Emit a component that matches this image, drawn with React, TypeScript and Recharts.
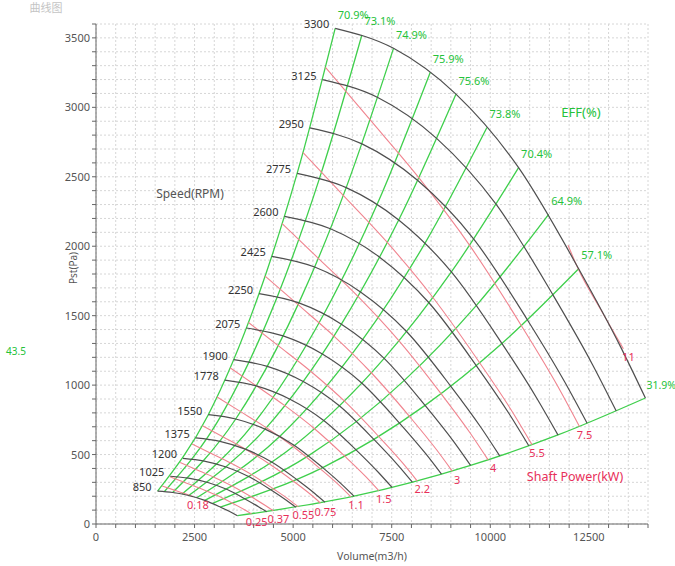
import React from 'react';
import { LineChart, Line, XAxis, YAxis, CartesianGrid } from 'recharts';

const FONT = '"Noto Sans", "Noto Sans CJK SC", sans-serif';

// axis ticks
const xLabels = [0, 2500, 5000, 7500, 10000, 12500];
const yLabels = [0, 500, 1000, 1500, 2000, 2500, 3000, 3500];
const xTicks = Array.from({ length: 29 }, (_, i) => i * 500);
const yTicks = Array.from({ length: 37 }, (_, i) => i * 100);

// speed curves (RPM), [volume m3/h, Pst Pa]
const n850 = [[1562, 237], [1944, 227], [2351, 205], [2761, 170], [3153, 122], [3426, 85], [3589, 60]];
const n1025 = [[1884, 344], [2344, 330], [2836, 299], [3329, 248], [3802, 177], [4131, 123], [4328, 88]];
const n1200 = [[2206, 472], [2744, 453], [3320, 409], [3897, 339], [4451, 243], [4836, 169], [5067, 120]];
const n1375 = [[2528, 620], [3144, 595], [3804, 537], [4466, 445], [5100, 319], [5541, 222], [5806, 157]];
const n1550 = [[2849, 787], [3544, 756], [4288, 683], [5034, 566], [5750, 406], [6247, 282], [6545, 200]];
const n1778 = [[3268, 1036], [4066, 994], [4919, 898], [5775, 745], [6595, 534], [7165, 371], [7508, 263]];
const n1900 = [[3493, 1183], [4345, 1135], [5256, 1026], [6171, 851], [7048, 609], [7657, 424], [8023, 301]];
const n2075 = [[3814, 1411], [4745, 1354], [5740, 1224], [6739, 1015], [7697, 727], [8362, 506], [8762, 359]];
const n2250 = [[4136, 1659], [5145, 1592], [6224, 1439], [7308, 1193], [8346, 854], [9068, 595], [9500, 422]];
const n2425 = [[4458, 1927], [5545, 1850], [6708, 1671], [7876, 1386], [8995, 993], [9773, 691], [10239, 490]];
const n2600 = [[4779, 2215], [5945, 2126], [7193, 1921], [8444, 1593], [9644, 1141], [10478, 794], [10978, 563]];
const n2775 = [[5101, 2524], [6345, 2422], [7677, 2189], [9013, 1815], [10294, 1300], [11183, 904], [11717, 641]];
const n2950 = [[5423, 2852], [6746, 2737], [8161, 2473], [9581, 2051], [10943, 1469], [11889, 1022], [12456, 725]];
const n3125 = [[5744, 3200], [7146, 3071], [8645, 2775], [10150, 2301], [11592, 1648], [12594, 1147], [13195, 813]];
const n3300 = [[6066, 3569], [7546, 3425], [9129, 3095], [10718, 2566], [12241, 1838], [13299, 1279], [13934, 907]];

// efficiency lines
const e709 = [[1562, 237], [2849, 787], [4136, 1659], [5101, 2524], [6066, 3569]];
const e731 = [[1737, 234], [3167, 777], [4598, 1637], [5670, 2490], [6743, 3521]];
const e749 = [[1944, 227], [3544, 756], [5145, 1592], [6345, 2422], [7546, 3425]];
const e759 = [[2184, 216], [3982, 717], [5780, 1512], [7128, 2300], [8477, 3252]];
const e756 = [[2351, 205], [4288, 683], [6224, 1439], [7677, 2189], [9129, 3095]];
const e738 = [[2554, 189], [4658, 630], [6761, 1327], [8338, 2019], [9916, 2855]];
const e704 = [[2761, 170], [5034, 566], [7308, 1193], [9013, 1815], [10718, 2566]];
const e649 = [[2957, 148], [5392, 492], [7827, 1036], [9654, 1576], [11480, 2229]];
const e571 = [[3153, 122], [5750, 406], [8346, 854], [10294, 1300], [12241, 1838]];
const e319 = [[3589, 60], [6545, 200], [9500, 422], [11717, 641], [13934, 907]];

// shaft power lines (kW)
const p018 = [[1679, 273], [2006, 242], [2363, 207], [2460, 197]];
const p025 = [[1874, 341], [2238, 301], [2636, 258], [3050, 208], [3473, 148], [3769, 103], [3946, 73]];
const p037 = [[2135, 442], [2551, 391], [3004, 335], [3476, 270], [3958, 192], [4296, 133], [4498, 95]];
const p055 = [[2437, 576], [2910, 510], [3429, 437], [3967, 352], [4516, 250], [4902, 174], [5133, 123]];
const p075 = [[2702, 708], [3228, 627], [3802, 537], [4399, 432], [5008, 308], [5437, 214], [5692, 151]];
const p110 = [[3070, 914], [3667, 809], [4320, 693], [4998, 558], [5690, 397], [6176, 276], [6467, 195]];
const p150 = [[3404, 1124], [4067, 995], [4790, 852], [5542, 686], [6310, 488], [6849, 339], [7172, 240]];
const p220 = [[3868, 1451], [4620, 1284], [5443, 1100], [6297, 886], [7170, 630], [7781, 438], [8147, 310]];
const p300 = [[4289, 1785], [5124, 1579], [6035, 1353], [6982, 1089], [7949, 775], [8628, 538], [9035, 381]];
const p400 = [[4721, 2162], [5639, 1913], [6643, 1639], [7685, 1319], [8750, 939], [9498, 652], [9945, 462]];
const p550 = [[5250, 2674], [6271, 2366], [7387, 2027], [8545, 1631], [9730, 1161], [10562, 807], [11058, 571]];
const p750 = [[5821, 3287], [6954, 2909], [8191, 2492], [9477, 2006], [10789, 1428], [11711, 992], [12262, 702]];
const p1100 = [[11972, 2007], [12241, 1830], [12800, 1545], [13376, 1262]];

const speeds = [
  { label: '850', pts: n850 }, { label: '1025', pts: n1025 }, { label: '1200', pts: n1200 },
  { label: '1375', pts: n1375 }, { label: '1550', pts: n1550 }, { label: '1778', pts: n1778 },
  { label: '1900', pts: n1900 }, { label: '2075', pts: n2075 }, { label: '2250', pts: n2250 },
  { label: '2425', pts: n2425 }, { label: '2600', pts: n2600 }, { label: '2775', pts: n2775 },
  { label: '2950', pts: n2950 }, { label: '3125', pts: n3125 }, { label: '3300', pts: n3300 },
];
const effs = [
  { label: '70.9%', pts: e709 }, { label: '73.1%', pts: e731 }, { label: '74.9%', pts: e749 },
  { label: '75.9%', pts: e759 }, { label: '75.6%', pts: e756 }, { label: '73.8%', pts: e738 },
  { label: '70.4%', pts: e704 }, { label: '64.9%', pts: e649 }, { label: '57.1%', pts: e571 },
  { label: '31.9%', pts: e319 },
];
const powers = [
  { label: '0.18', pts: p018 }, { label: '0.25', pts: p025 }, { label: '0.37', pts: p037 },
  { label: '0.55', pts: p055 }, { label: '0.75', pts: p075 }, { label: '1.1', pts: p110 },
  { label: '1.5', pts: p150 }, { label: '2.2', pts: p220 }, { label: '3', pts: p300 },
  { label: '4', pts: p400 }, { label: '5.5', pts: p550 }, { label: '7.5', pts: p750 },
  { label: '11', pts: p1100 },
];

const GRAY = '#4f4f4f';
const GREEN = '#3fcf4c';
const GREEN_TXT = '#25c23a';
const RED = '#f0848f';
const RED_TXT = '#e8305a';

const toXY = (pts: number[][]) => pts.map(([x, y]) => ({ x, y }));

const XTick = (props: any) => {
  const { x, y, payload } = props;
  if (!xLabels.includes(payload.value)) return <g />;
  return (
    <text x={x} y={y + 10.5} textAnchor="middle" fontSize={11} fill="#555" fontFamily={FONT}>
      {payload.value}
    </text>
  );
};

const YTick = (props: any) => {
  const { x, y, payload } = props;
  if (!yLabels.includes(payload.value)) return <g />;
  return (
    <text x={x} y={y + 4} textAnchor="end" fontSize={11} fill="#555" fontFamily={FONT}>
      {payload.value}
    </text>
  );
};

const labelDot = (at: number, id: string, render: (cx: number, cy: number) => React.ReactNode) =>
  (p: any) => {
    if (p.index !== at) return <g key={`${id}-${p.index}`} />;
    return <g key={`${id}-${p.index}`}>{render(p.cx, p.cy)}</g>;
  };

const Note = ({ x, y, color, size, children, rotate }: any) => (
  <div
    style={{
      position: 'absolute', left: x, top: y, color, fontSize: size, fontFamily: FONT,
      whiteSpace: 'nowrap', lineHeight: 1,
      transform: `translate(-50%, -50%)${rotate ? ` rotate(${rotate}deg)` : ''}`,
    }}
  >
    {children}
  </div>
);

export default function App() {
  return (
    <div style={{ position: 'absolute', left: 0, top: 0, width: 675, height: 566, background: '#fff', overflow: 'hidden' }}>
      <LineChart width={675} height={566} margin={{ top: 24, right: 27, bottom: 0, left: 0 }}>
        <CartesianGrid stroke="#d6d6d6" strokeDasharray="2 2" />
        <XAxis
          type="number" dataKey="x" domain={[0, 14000]} ticks={xTicks} interval={0}
          tick={<XTick />} tickSize={4} height={42} stroke="#666"
        />
        <YAxis
          type="number" domain={[0, 3600]} ticks={yTicks} interval={0}
          tick={<YTick />} tickSize={4} width={96} stroke="#666"
        />
        {effs.map((e, i) => (
          <Line
            key={`e${i}`} data={toXY(e.pts)} dataKey="y" type="monotone" stroke={GREEN}
            strokeWidth={1.3} isAnimationActive={false} activeDot={false} legendType="none"
            dot={labelDot(e.pts.length - 1, `e${i}`, (cx, cy) =>
              i === effs.length - 1 ? (
                <text x={cx + 1} y={cy - 9} textAnchor="start" fontSize={10.5} fill={GREEN_TXT} fontFamily={FONT}>{e.label}</text>
              ) : (
                <text x={cx + 18} y={cy - 9.5} textAnchor="middle" fontSize={11} fill={GREEN_TXT} fontFamily={FONT}>{e.label}</text>
              ))}
          />
        ))}
        {powers.map((p, i) => (
          <Line
            key={`p${i}`} data={toXY(p.pts)} dataKey="y" type="monotone" stroke={RED}
            strokeWidth={1.1} isAnimationActive={false} activeDot={false} legendType="none"
            dot={labelDot(p.pts.length - 1, `p${i}`, (cx, cy) => (
              <text x={cx + 5} y={cy + 12.5} textAnchor="middle" fontSize={11} fill={RED_TXT} fontFamily={FONT}>{p.label}</text>
            ))}
          />
        ))}
        {speeds.map((s, i) => (
          <Line
            key={`s${i}`} data={toXY(s.pts)} dataKey="y" type="monotone" stroke={GRAY}
            strokeWidth={1.2} isAnimationActive={false} activeDot={false} legendType="none"
            dot={labelDot(0, `s${i}`, (cx, cy) => (
              <text x={cx - 6} y={cy} textAnchor="end" fontSize={11} fill="#333" fontFamily={FONT}>{s.label}</text>
            ))}
          />
        ))}
      </LineChart>
      <Note x={46} y={7} color="#c4c4c4" size={11}>曲线图</Note>
      <Note x={190} y={194} color="#555" size={12}>Speed(RPM)</Note>
      <Note x={581} y={112} color={GREEN_TXT} size={13}>EFF(%)</Note>
      <Note x={575} y={477} color={RED_TXT} size={12.5}>Shaft Power(kW)</Note>
      <Note x={16} y={351} color={GREEN_TXT} size={10}>43.5</Note>
      <Note x={73} y={268} color="#555" size={10} rotate={-90}>Pst(Pa)</Note>
      <Note x={372} y={556} color="#555" size={10.5}>Volume(m3/h)</Note>
    </div>
  );
}
